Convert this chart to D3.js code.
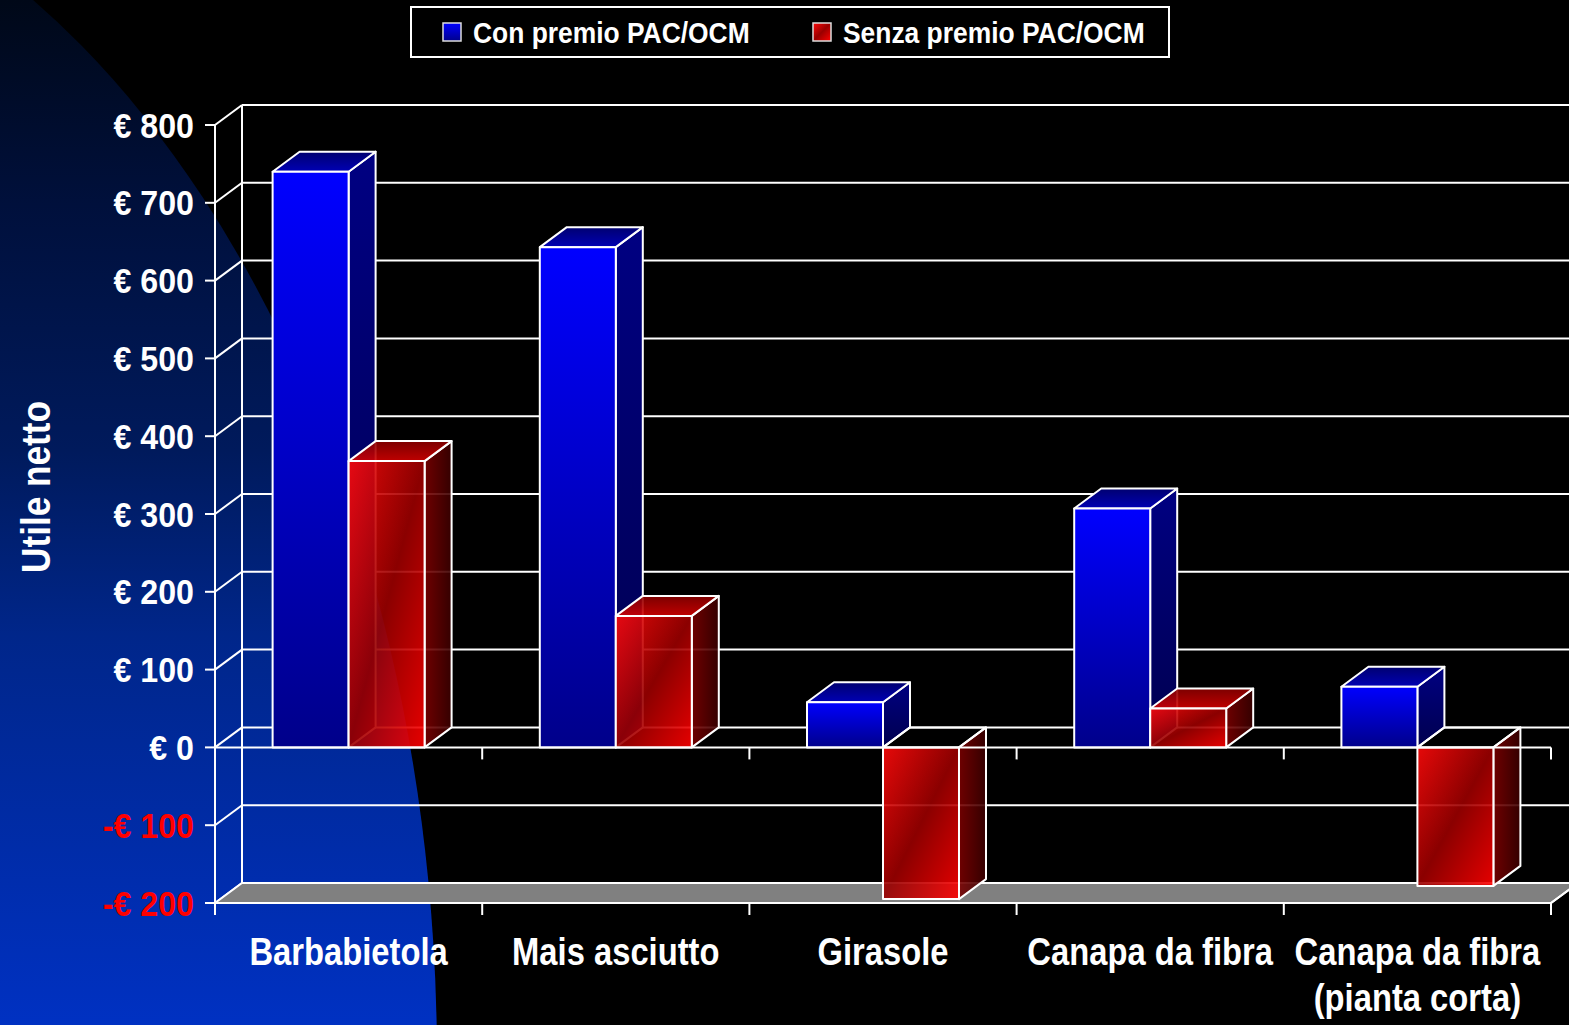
<!DOCTYPE html>
<html>
<head>
<meta charset="utf-8">
<script src="https://cdn.jsdelivr.net/npm/d3@7"></script>
<style>
  html, body { margin: 0; padding: 0; background: #000; }
  svg { display: block; }
  .lbl { font-family: "Liberation Sans", Arial, sans-serif; font-weight: bold; fill: #fff; }
</style>
</head>
<body>
<script>
const categories = ["Barbabietola", "Mais asciutto", "Girasole", "Canapa da fibra", "Canapa da fibra|(pianta corta)"];
const series = ["Con premio PAC/OCM", "Senza premio PAC/OCM"];
const conPremio = [740, 643, 58, 307, 78];
const senzaPremio = [368, 169, -195, 50, -178];
const tickValues = [-200, -100, 0, 100, 200, 300, 400, 500, 600, 700, 800];
const tickLabels = ["-€ 200", "-€ 100", "€ 0", "€ 100", "€ 200", "€ 300", "€ 400", "€ 500", "€ 600", "€ 700", "€ 800"];

const W = 1569, H = 1025;
const DX = 27, DY = -20;   // depth of the 3d box

const svg = d3.select("body").append("svg")
    .attr("width", W)
    .attr("height", H);

const defs = svg.append("defs");

function grad(id, x2, y2, stops, user) {
  const g = defs.append("linearGradient").attr("id", id)
      .attr("x1", 0).attr("y1", 0).attr("x2", x2).attr("y2", y2);
  if (user) g.attr("gradientUnits", "userSpaceOnUse");
  stops.forEach(s => g.append("stop").attr("offset", s[0]).attr("stop-color", s[1]));
}
grad("bg", 0, H, [[0, "#000818"], [0.2, "#00103c"], [0.44, "#001a5c"], [0.62, "#00268a"], [1, "#0031c2"]], true);
grad("blueFront", 0, 1, [[0, "#0000ff"], [1, "#00008a"]]);
grad("blueSide", 0, 1, [[0, "#000082"], [1, "#00004e"]]);
grad("blueTop", 0, 1, [[0, "#000070"], [1, "#0000b4"]]);
grad("redFront", 1, 1, [[0, "#ff0a0a"], [0.5, "#9a0000"], [1, "#ff0000"]]);
grad("redSide", 1, 0, [[0, "#7a0000"], [1, "#3a0000"]]);
grad("redTop", 0, 1, [[0, "#8a0000"], [1, "#d40000"]]);

// squeeze the text horizontally, the slide font is a narrow one
function narrow(sel, sx) {
  sel.attr("transform", function() {
    const x = +this.getAttribute("x") || 0, y = +this.getAttribute("y") || 0;
    return `translate(${x},${y}) scale(${sx},1)`;
  }).attr("x", 0).attr("y", 0);
}

// background
svg.append("rect").attr("width", W).attr("height", H).attr("fill", "#000");
svg.append("ellipse")
    .attr("cx", -363).attr("cy", 1060)
    .attr("rx", 800).attr("ry", 1220)
    .attr("fill", "url(#bg)");

const x0 = d3.scaleBand().domain(categories).range([215, 1551]);
const x1 = d3.scaleBand().domain(series).range([0, x0.bandwidth()]).paddingOuter(0.758);
const y = d3.scaleLinear().domain([-200, 800]).range([903, 125]);

const xL = x0.range()[0], xR = x0.range()[1];
const line = (g, a, b, c, d, w) => g.append("line")
    .attr("x1", a).attr("y1", b).attr("x2", c).attr("y2", d)
    .attr("stroke", "#fff").attr("stroke-width", w || 2);

// walls and grid
const grid = svg.append("g");
tickValues.forEach(v => {
  line(grid, xL + DX, y(v) + DY, W + 5, y(v) + DY);
  line(grid, xL, y(v), xL + DX, y(v) + DY);
  line(grid, xL - 10, y(v), xL, y(v));
});
line(grid, xL + DX, y(800) + DY, xL + DX, y(-200) + DY);
line(grid, xL, y(800), xL, y(-200) + 12);

// floor
svg.append("polygon")
    .attr("points", [[xL, y(-200)], [xL + DX, y(-200) + DY], [xR + DX, y(-200) + DY], [xR, y(-200)]].join(" "))
    .attr("fill", "#808080").attr("stroke", "#fff").attr("stroke-width", 2);

// bars
const bars = [];
categories.forEach((c, i) => {
  bars.push({ c: c, s: series[0], v: conPremio[i], col: "blue" });
  bars.push({ c: c, s: series[1], v: senzaPremio[i], col: "red" });
});

const barG = svg.append("g");
bars.forEach(d => {
  const x = x0(d.c) + x1(d.s), w = x1.bandwidth();
  const yt = y(Math.max(d.v, 0)), yb = y(Math.min(d.v, 0));
  const g = barG.append("g")
      .attr("stroke", "#fff").attr("stroke-width", 2).attr("stroke-linejoin", "round");
  const op = d.col == "red" ? 0.9 : 1;
  g.append("polygon")
      .attr("points", [[x + w, yt], [x + w + DX, yt + DY], [x + w + DX, yb + DY], [x + w, yb]].join(" "))
      .attr("fill", `url(#${d.col}Side)`).attr("fill-opacity", op);
  g.append("polygon")
      .attr("points", [[x, yt], [x + DX, yt + DY], [x + w + DX, yt + DY], [x + w, yt]].join(" "))
      .attr("fill", d.v >= 0 ? `url(#${d.col}Top)` : "none").attr("fill-opacity", op);
  g.append("rect")
      .attr("x", x).attr("y", yt).attr("width", w).attr("height", yb - yt)
      .attr("fill", `url(#${d.col}Front)`).attr("fill-opacity", op);
});

// category axis at zero and at floor
const ax = svg.append("g");
line(ax, xL, y(0), xR, y(0));
line(ax, xL, y(-200), xR, y(-200));
line(ax, xR, y(-200), xR + DX, y(-200) + DY);
categories.forEach(c => {
  const xe = x0(c) + x0.bandwidth();
  line(ax, xe, y(0), xe, y(0) + 12);
  line(ax, xe, y(-200), xe, y(-200) + 12);
});

// y tick labels
svg.append("g").selectAll("text")
    .data(tickValues)
    .enter().append("text")
    .attr("class", "lbl")
    .attr("x", 194)
    .attr("y", d => y(d))
    .attr("dy", "0.36em")
    .attr("text-anchor", "end")
    .style("font-size", "35px")
    .style("fill", d => d < 0 ? "#ff0000" : "#fff")
    .text((d, i) => tickLabels[i])
    .call(narrow, 0.92);

// y title
svg.append("text")
    .attr("class", "lbl")
    .attr("transform", "translate(50,487) rotate(-90) scale(0.88,1)")
    .attr("text-anchor", "middle")
    .style("font-size", "40px")
    .text("Utile netto");

// category labels
const catText = svg.append("g").selectAll("text")
    .data(categories)
    .enter().append("text")
    .attr("class", "lbl")
    .attr("text-anchor", "middle")
    .style("font-size", "39px")
    .attr("x", d => x0(d) + x0.bandwidth() / 2)
    .attr("y", 965)
    .call(narrow, 0.84);
catText.selectAll("tspan")
    .data(d => d.split("|"))
    .enter().append("tspan")
    .attr("x", 0)
    .attr("dy", (d, i) => i ? 46 : 0)
    .text(d => d);

// legend
const leg = svg.append("g");
leg.append("rect")
    .attr("x", 411).attr("y", 7).attr("width", 758).attr("height", 50)
    .attr("fill", "#000").attr("stroke", "#fff").attr("stroke-width", 2);
const legX = [443, 813];
series.forEach((s, i) => {
  leg.append("rect")
      .attr("x", legX[i]).attr("y", 23).attr("width", 18).attr("height", 18)
      .attr("fill", i ? "url(#redFront)" : "url(#blueFront)")
      .attr("stroke", "#ddd").attr("stroke-width", 1.5);
  leg.append("text")
      .attr("class", "lbl")
      .attr("x", legX[i] + 30).attr("y", 43)
      .style("font-size", "30px")
      .text(s)
      .call(narrow, 0.88);
});
</script>
</body>
</html>
